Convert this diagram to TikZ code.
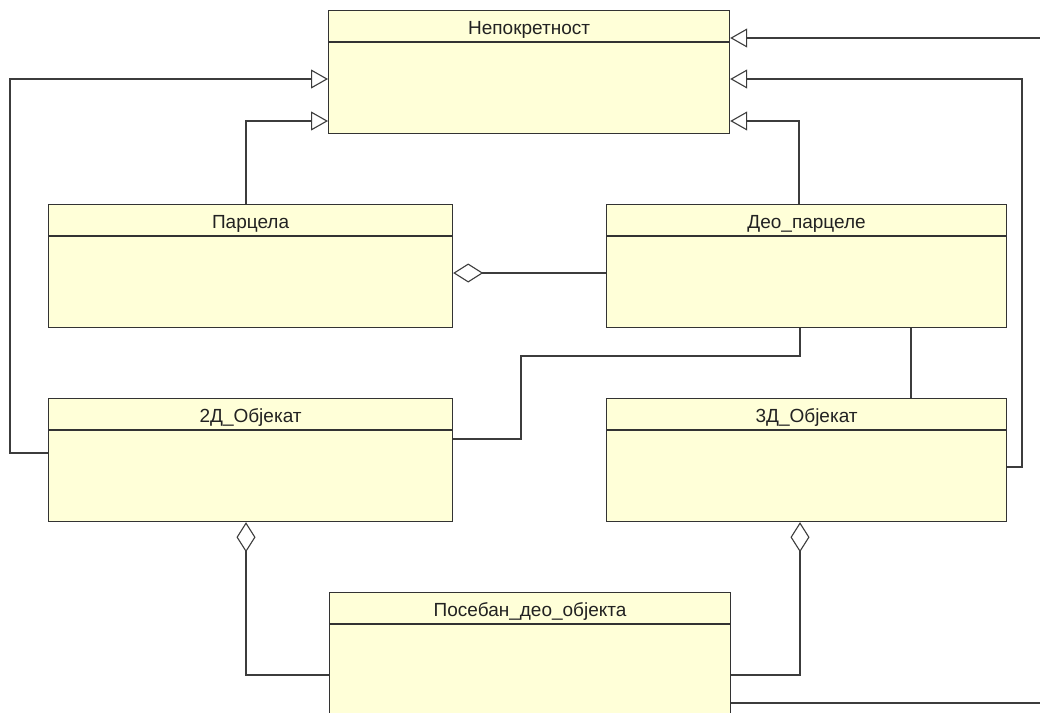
\documentclass[tikz,border=0pt]{standalone}
\usepackage{fontspec}
\setmainfont{Liberation Sans}
\usetikzlibrary{arrows.meta,calc}
\definecolor{classfill}{RGB}{255,255,216}
\definecolor{classline}{RGB}{51,51,51}
\definecolor{wire}{RGB}{60,60,60}
\definecolor{ink}{RGB}{34,34,34}
\begin{document}
\begin{tikzpicture}[x=1pt,y=-1pt,
  classbox/.style={draw=classline,fill=classfill,line width=1.2pt,rectangle,
    anchor=north west,inner sep=0pt,minimum height=123pt},
  classname/.style={anchor=base,inner sep=0pt,text=ink,font=\fontsize{19}{22}\selectfont},
  wireline/.style={draw=wire,line width=1.1pt},
  gen/.style={wireline,-{Triangle[open,length=17pt,width=19pt,fill=white]}},
  agg/.style={wireline,{Diamond[open,length=30pt,width=19pt,fill=white]}-},
]
\clip (0,0) rectangle (1040,712);
\fill[white] (0,0) rectangle (1040,712);

% class boxes
\node[classbox,minimum width=401pt] (nep) at (328,10) {};
\node[classbox,minimum width=404pt] (parc) at (48,204) {};
\node[classbox,minimum width=400pt] (deo) at (606,204) {};
\node[classbox,minimum width=404pt] (ob2) at (48,398) {};
\node[classbox,minimum width=400pt] (ob3) at (606,398) {};
\node[classbox,minimum width=401pt] (pos) at (329,592) {};

% header separators and class names
\foreach \c/\t in {nep/Непокретност,parc/Парцела,deo/Део\_парцеле,
                   ob2/2Д\_Објекат,ob3/3Д\_Објекат,pos/Посебан\_део\_објекта}{
  \draw[classline,line width=1.2pt] ($(\c.north west)+(0,32)$) -- ($(\c.north east)+(0,32)$);
  \node[classname] (\c-name) at ($(\c.north)+(0,24.5)$) {\t};
}

% generalizations into Непокретност (right side)
\coordinate (r1) at (1040,38);
\draw[gen] (r1) -- (nep.east |- r1);
\coordinate (r2a) at (1022,467);
\coordinate (r2b) at (1022,79);
\draw[gen] (ob3.east |- r2a) -- (r2a) -- (r2b) -- (nep.east |- r2b);
\coordinate (r3) at (799,121);
\draw[gen] (deo.north -| r3) -- (r3) -- (nep.east |- r3);

% generalizations into Непокретност (left side)
\coordinate (l1a) at (10,453);
\coordinate (l1b) at (10,79);
\draw[gen] (ob2.west |- l1a) -- (l1a) -- (l1b) -- (nep.west |- l1b);
\coordinate (l2) at (246,121);
\draw[gen] (parc.north -| l2) -- (l2) -- (nep.west |- l2);

% aggregation Парцела <>-- Део_парцеле
\coordinate (a1) at (0,273);
\draw[agg] (parc.east |- a1) -- (deo.west |- a1);

% plain associations
\coordinate (s1) at (521,439);
\coordinate (s2) at (521,356);
\coordinate (s3) at (800,356);
\draw[wireline] (ob2.east |- s1) -- (s1) -- (s2) -- (s3) -- (deo.south -| s3);
\coordinate (s4) at (911,0);
\draw[wireline] (deo.south -| s4) -- (ob3.north -| s4);

% aggregations onto Посебан_део_објекта
\coordinate (p1) at (246,675);
\draw[agg] (ob2.south -| p1) -- (p1) -- (pos.west |- p1);
\coordinate (p2) at (800,675);
\draw[agg] (ob3.south -| p2) -- (p2) -- (pos.east |- p2);
\coordinate (p3) at (1040,703);
\draw[wireline] (pos.east |- p3) -- (p3);
\end{tikzpicture}
\end{document}
